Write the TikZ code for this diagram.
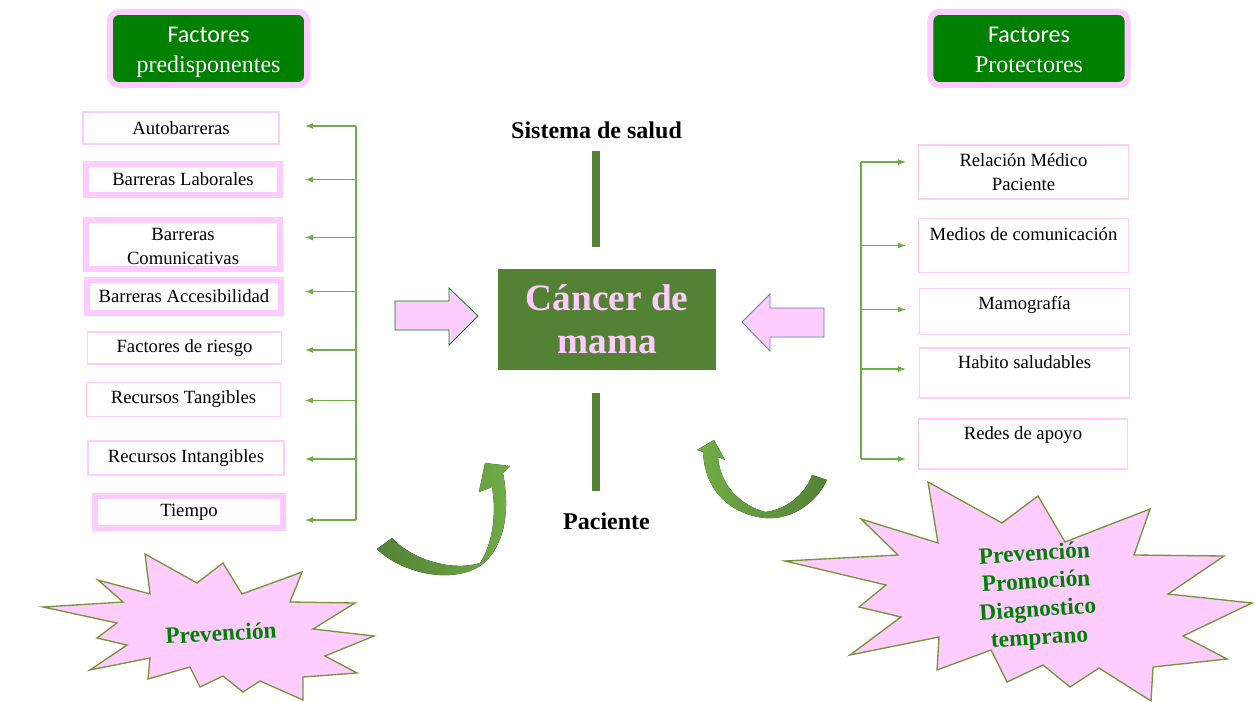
\documentclass[tikz,border=0pt]{standalone}
\usepackage{fontspec}
\setmainfont{Liberation Serif}
\newfontfamily\hdfont{Carlito}
\usetikzlibrary{arrows.meta,calc,positioning}

\definecolor{hdgreen}{RGB}{0,128,0}
\definecolor{rosa}{RGB}{255,204,255}
\definecolor{dkgreen}{RGB}{84,130,53}
\definecolor{ltgreen}{RGB}{112,173,71}
\definecolor{olive}{RGB}{119,147,60}
\definecolor{steel}{RGB}{91,125,177}

\begin{document}
\begin{tikzpicture}[x=0.75pt, y=-0.75pt, >={Latex[length=6pt,width=4.5pt]},
  hdr/.style={draw=rosa, line width=4.5pt, fill=hdgreen, rounded corners=7pt,
              minimum width=148pt, minimum height=55pt, text=white, align=center,
              text height=36pt, text depth=0pt, font=\fontsize{18}{22.5}\selectfont},
  thinbox/.style={draw=rosa, line width=0.8pt, minimum width=147pt,
              minimum height=24pt, align=center, font=\fontsize{14}{18}\selectfont},
  thickbox/.style={thinbox, line width=4.5pt, minimum width=145.5pt},
  topset/.style={text depth=#1},
  feed/.style={draw=ltgreen, line width=0.8pt},
  bar/.style={draw=dkgreen, line width=6pt},
  star/.style={fill=rosa, draw=olive, line width=1pt},
  startext/.style={text=hdgreen, align=center,
              font=\fontsize{17.5}{21}\selectfont\bfseries}]
\useasboundingbox (0,0) rectangle (1255,702);

% headers
\node[hdr] (hl) at (208.5,48.5) {{\hdfont Factores}\\predisponentes};
\node[hdr] (hr) at (1029,48.5)  {{\hdfont Factores}\\Protectores};

% left column
\node[thinbox]                      (b1) at (181,128)   {Autobarreras};
\node[thickbox, minimum height=23pt] (b2) at (183,179.5) {Barreras Laborales};
\node[thickbox, minimum height=37pt, text height=30pt, text depth=0pt] (b3) at (183,244.5) {Barreras\\Comunicativas};
\node[thickbox, minimum height=25pt] (b4) at (184,296.5) {Barreras Accesibilidad};
\node[thinbox, minimum width=146pt] (b5) at (184.5,348) {Factores de riesgo};
\node[thinbox, minimum width=146pt, minimum height=25pt] (b6) at (183.5,399.5) {Recursos Tangibles};
\node[thinbox, minimum height=25.5pt] (b7) at (186,458) {Recursos Intangibles};
\node[thickbox, minimum width=141pt] (b8) at (189,512) {Tiempo};

\coordinate (lt) at (356,126);
\coordinate (lb) at (356,520);
\draw[feed] (lt) -- (lb);
\foreach \b/\dy in {b1/-2, b2/0, b3/-7, b4/-5, b5/2, b6/1, b7/1, b8/8}
  \draw[feed,->] ($(lt |- \b.east)+(0,\dy)$) -- ++(-51,0);

% right column
\node[thinbox, minimum width=157pt, minimum height=40.5pt] (r1) at (1023.5,172) {Relación Médico\\Paciente};
\node[thinbox, minimum width=157pt, minimum height=41pt, topset=16.5pt] (r2) at (1023.5,245.5) {Medios de comunicación};
\node[thinbox, minimum width=157pt, minimum height=35pt, topset=12.8pt] (r3) at (1024.5,311.5) {Mamografía};
\node[thinbox, minimum width=157pt, minimum height=37.5pt, topset=16pt] (r4) at (1024.5,373) {Habito saludables};
\node[thinbox, minimum width=157pt, minimum height=37.5pt, topset=16pt] (r5) at (1023,444) {Redes de apoyo};

\coordinate (rt) at (861,162);
\coordinate (rb) at (861,459);
\draw[feed] (rt) -- (rb);
\foreach \b/\dy in {r1/-10, r2/0, r3/-2, r4/-4, r5/15}
  \draw[feed,->] ($(rt |- \b.west)+(0,\dy)$) -- ++(45,0);

% centre
\node[font=\fontsize{18}{22}\selectfont\bfseries] (salud) at (596.5,130) {Sistema de salud};
\node[fill=dkgreen, minimum width=163.5pt, minimum height=76pt, text=rosa, align=center,
      font=\fontsize{28}{32}\selectfont\bfseries] (cancer) at (607,319.5) {Cáncer de\\mama};
\node[font=\fontsize{18}{22}\selectfont\bfseries] (paciente) at (606.5,521) {Paciente};

\draw[bar, shorten <=5.5pt, shorten >=16.5pt] (salud.south -| 596,0) -- (cancer.north -| 596,0);
\draw[bar, shorten <=17pt, shorten >=13pt] (cancer.south -| 596,0) -- (paciente.north -| 596,0);

% block arrows
\draw[fill=rosa, draw=hdgreen, line width=0.6pt] (395,301) -- (449,301) -- (449,288)
  -- (478,316) -- (449,345) -- (449,330) -- (395,330) -- cycle;
\draw[fill=rosa, draw=steel, line width=0.6pt] (824,308) -- (770,308) -- (770,294)
  -- (742,322) -- (770,351) -- (770,337) -- (824,337) -- cycle;

% curved arrows
\fill[left color=dkgreen, right color=ltgreen]
  (377,549) .. controls (400,572) and (450,585) .. (480,566)
  .. controls (500,552) and (512,520) .. (503,473) -- (510,466) -- (485,463)
  -- (479,492) -- (492,487) .. controls (497,515) and (492,545) .. (480,563)
  .. controls (455,571) and (415,562) .. (392,538) -- cycle;
\fill[left color=ltgreen, right color=dkgreen]
  (827,480) .. controls (815,505) and (790,520) .. (765,518)
  .. controls (735,515) and (705,495) .. (703,452) -- (697,450) -- (714,440)
  -- (725,460) -- (718,457) .. controls (720,485) and (740,505) .. (765,512)
  .. controls (785,510) and (805,495) .. (812,475) -- cycle;

% stars
\draw[star] (43,607) -- (123,602) -- (98,580) -- (150,594) -- (145,554) -- (197,583)
  -- (223,563) -- (242,594) -- (302,572) -- (290,602) -- (355,603) -- (313,629)
  -- (374,636) -- (325,656) -- (357,673) -- (303,677) -- (303,700) -- (260,681)
  -- (243,692) -- (223,676) -- (200,687) -- (190,667) -- (148,679) -- (150,658)
  -- (90,670) -- (127,645) -- (97,638) -- (117,623) -- cycle;
\node[startext, rotate=3] (prev) at (221,633) {Prevención};

\draw[star] (785,561) -- (898,555) -- (861,519) -- (938,543) -- (928,482) -- (1002,523)
  -- (1038,496) -- (1065,542) -- (1150,509) -- (1134,555) -- (1224,556) -- (1168,594)
  -- (1252,603) -- (1183,636) -- (1227,659) -- (1153,667) -- (1151,701) -- (1099,668)
  -- (1070,687) -- (1043,665) -- (1007,682) -- (991,650) -- (937,670) -- (939,637)
  -- (850,655) -- (901,617) -- (859,607) -- (886,585) -- cycle;
\node[startext, rotate=3.5] (prom) at (1037,597) {Prevención\\Promoción\\Diagnostico\\temprano};

\end{tikzpicture}
\end{document}
